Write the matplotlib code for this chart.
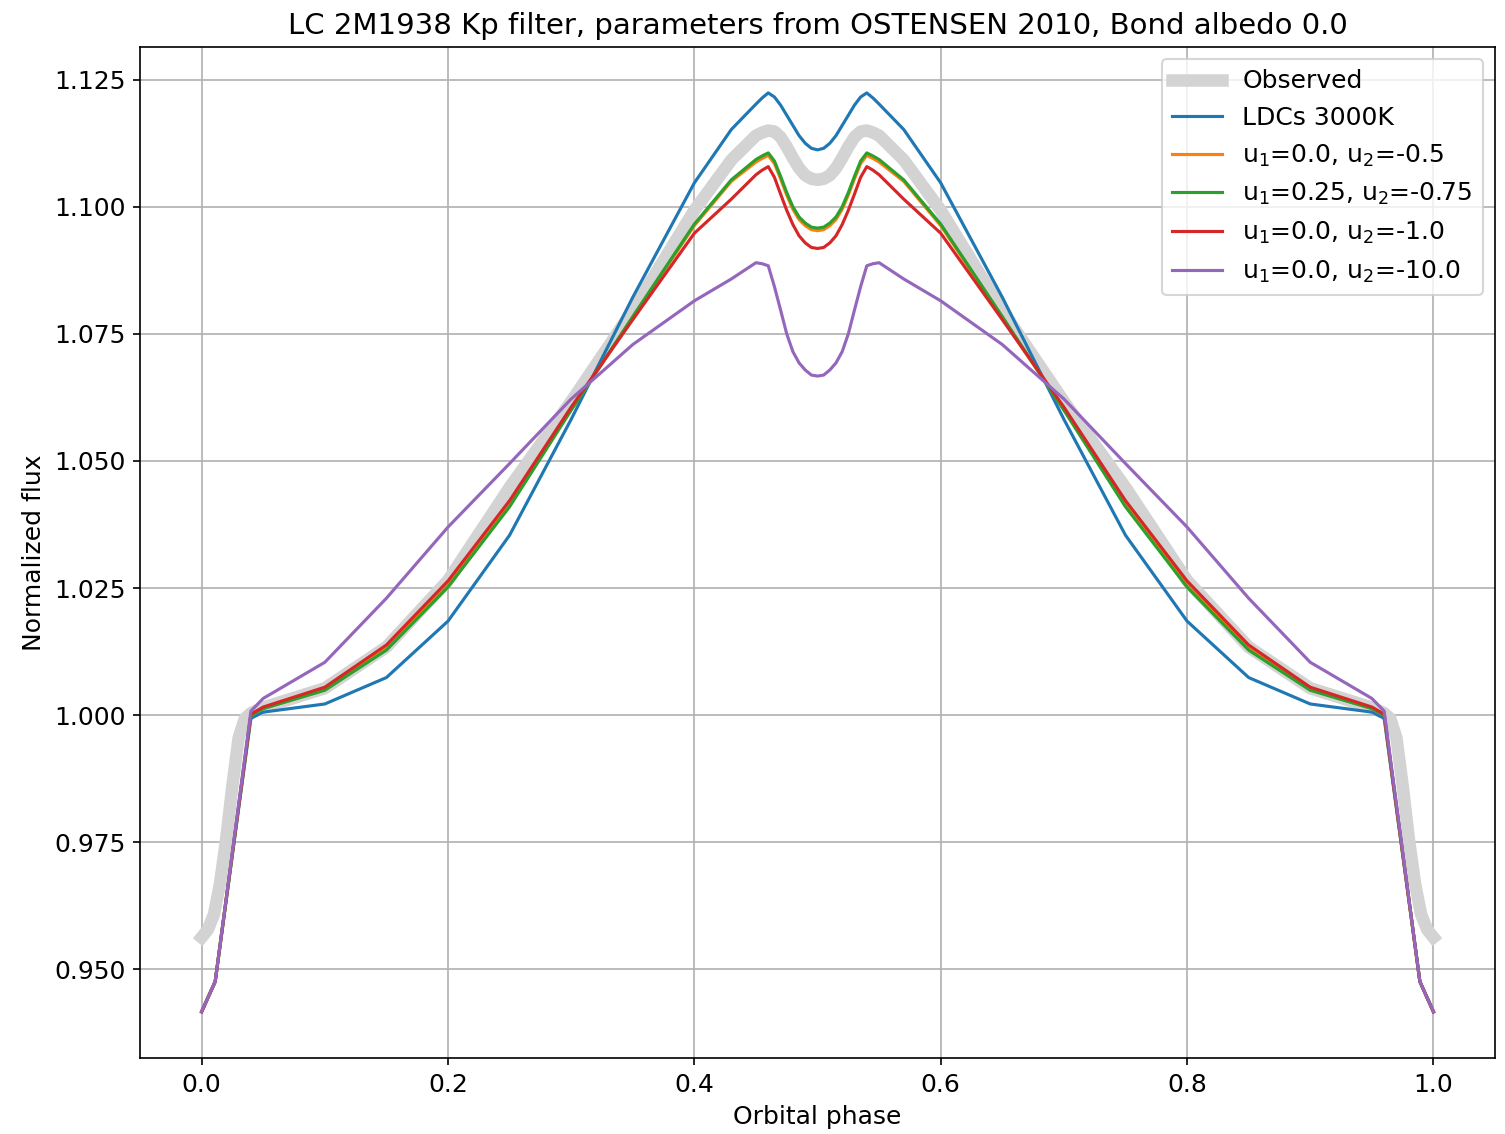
#Light curve of 2M1938 in the Kp filter, model vs observed
import matplotlib.pyplot as plt
import numpy as np

plt.rcParams['font.size'] = 12

#Orbital phase grid of the models
phase = [0.0, 0.011, 0.04, 0.05, 0.1, 0.15, 0.2, 0.25, 0.3, 0.35, 0.4, 0.43, 0.45, 0.455,
         0.46, 0.465, 0.47, 0.475, 0.48, 0.485, 0.49, 0.495, 0.5,
         0.505, 0.51, 0.515, 0.52, 0.525, 0.53, 0.535, 0.54, 0.545, 0.55, 0.57, 0.6,
         0.65, 0.7, 0.75, 0.8, 0.85, 0.9, 0.95, 0.96, 0.989, 1.0]

ldc_3000 = [0.9417, 0.9476, 0.9994, 1.0006, 1.0022, 1.0074, 1.0185, 1.0354, 1.0582, 1.0822,
            1.1047, 1.1152, 1.1202, 1.1214, 1.1224, 1.1216, 1.1200, 1.1180, 1.1160, 1.1140,
            1.1125, 1.1115, 1.1112,
            1.1115, 1.1125, 1.1140, 1.1160, 1.1180, 1.1200, 1.1216, 1.1224, 1.1214, 1.1202,
            1.1152, 1.1047, 1.0822, 1.0582, 1.0354, 1.0185, 1.0074, 1.0022, 1.0006, 0.9994,
            0.9476, 0.9417]
u0_m05 = [0.9417, 0.9476, 1.0000, 1.0013, 1.0050, 1.0131, 1.0256, 1.0413, 1.0601, 1.0782,
          1.0963, 1.1050, 1.1088, 1.1095, 1.1101, 1.1085, 1.1055, 1.1023, 1.0995, 1.0975,
          1.0963, 1.0955, 1.0953,
          1.0955, 1.0963, 1.0975, 1.0995, 1.1023, 1.1055, 1.1085, 1.1101, 1.1095, 1.1088,
          1.1050, 1.0963, 1.0782, 1.0601, 1.0413, 1.0256, 1.0131, 1.0050, 1.0013, 1.0000,
          0.9476, 0.9417]
u025_m075 = [0.9417, 0.9476, 1.0000, 1.0013, 1.0049, 1.0128, 1.0252, 1.0410, 1.0600, 1.0784,
             1.0966, 1.1053, 1.1093, 1.1100, 1.1106, 1.1090, 1.1060, 1.1028, 1.1000, 1.0980,
             1.0968, 1.0960, 1.0958,
             1.0960, 1.0968, 1.0980, 1.1000, 1.1028, 1.1060, 1.1090, 1.1106, 1.1100, 1.1093,
             1.1053, 1.0966, 1.0784, 1.0600, 1.0410, 1.0252, 1.0128, 1.0049, 1.0013, 1.0000,
             0.9476, 0.9417]
u0_m1 = [0.9416, 0.9476, 1.0002, 1.0016, 1.0055, 1.0138, 1.0264, 1.0422, 1.0606, 1.0778,
         1.0948, 1.1015, 1.1063, 1.1072, 1.1079, 1.1058, 1.1025, 1.0993, 1.0965, 1.0943,
         1.0929, 1.0920, 1.0918,
         1.0920, 1.0929, 1.0943, 1.0965, 1.0993, 1.1025, 1.1058, 1.1079, 1.1072, 1.1063,
         1.1015, 1.0948, 1.0778, 1.0606, 1.0422, 1.0264, 1.0138, 1.0055, 1.0016, 1.0002,
         0.9476, 0.9416]
u0_m10 = [0.9417, 0.9476, 1.0008, 1.0033, 1.0104, 1.0230, 1.0370, 1.0495, 1.0622, 1.0729,
          1.0815, 1.0858, 1.0890, 1.0888, 1.0884, 1.0843, 1.0797, 1.0750, 1.0715, 1.0693,
          1.0679, 1.0669, 1.0667,
          1.0669, 1.0679, 1.0693, 1.0715, 1.0750, 1.0797, 1.0843, 1.0884, 1.0888, 1.0890,
          1.0858, 1.0815, 1.0729, 1.0622, 1.0495, 1.0370, 1.0230, 1.0104, 1.0033, 1.0008,
          0.9476, 0.9417]

#Observed light curve
obs_phase = [0.0, 0.005, 0.01, 0.015, 0.02, 0.025, 0.03, 0.035, 0.04, 0.05, 0.1, 0.15, 0.2,
             0.25, 0.3, 0.35, 0.4, 0.43, 0.45, 0.455, 0.46, 0.465, 0.47, 0.475, 0.48, 0.485,
             0.49, 0.495, 0.5,
             0.505, 0.51, 0.515, 0.52, 0.525, 0.53, 0.535, 0.54, 0.545, 0.55, 0.57, 0.6,
             0.65, 0.7, 0.75, 0.8, 0.85, 0.9, 0.95, 0.96, 0.965, 0.97, 0.975, 0.98, 0.985,
             0.99, 0.995, 1.0]
obs_flux = [0.9563, 0.9578, 0.9608, 0.9670, 0.9758, 0.9862, 0.9955, 0.9993, 1.0004, 1.0015,
            1.0053, 1.0134, 1.0265, 1.0448, 1.0617, 1.0796, 1.0993, 1.1092, 1.1140, 1.1146,
            1.1150, 1.1148, 1.1137, 1.1118, 1.1096, 1.1076, 1.1062, 1.1055, 1.1053,
            1.1055, 1.1062, 1.1076, 1.1096, 1.1118, 1.1137, 1.1148, 1.1150, 1.1146, 1.1140,
            1.1092, 1.0993, 1.0796, 1.0617, 1.0448, 1.0265, 1.0134, 1.0053, 1.0015, 1.0004,
            0.9993, 0.9955, 0.9862, 0.9758, 0.9670, 0.9608, 0.9578, 0.9563]

labels = ['LDCs 3000K', 'u$_1$=0.0, u$_2$=-0.5', 'u$_1$=0.25, u$_2$=-0.75',
          'u$_1$=0.0, u$_2$=-1.0', 'u$_1$=0.0, u$_2$=-10.0']
models = [ldc_3000, u0_m05, u025_m075, u0_m1, u0_m10]

fig = plt.figure(figsize=(10.04, 7.56), dpi=150)
ax = fig.add_axes([0.093, 0.067, 0.8997, 0.8916])

ax.plot(obs_phase, obs_flux, color='lightgray', linewidth=6, label='Observed')
for flux, lab in zip(models, labels):
    ax.plot(phase, flux, linewidth=1.5, label=lab)

ax.set_title('LC 2M1938 Kp filter, parameters from OSTENSEN 2010, Bond albedo 0.0', fontsize=14)
ax.set_xlabel('Orbital phase')
ax.set_ylabel('Normalized flux')
ax.grid(True)
ax.legend(loc='upper right')

fig.savefig('out.png', dpi=150)
